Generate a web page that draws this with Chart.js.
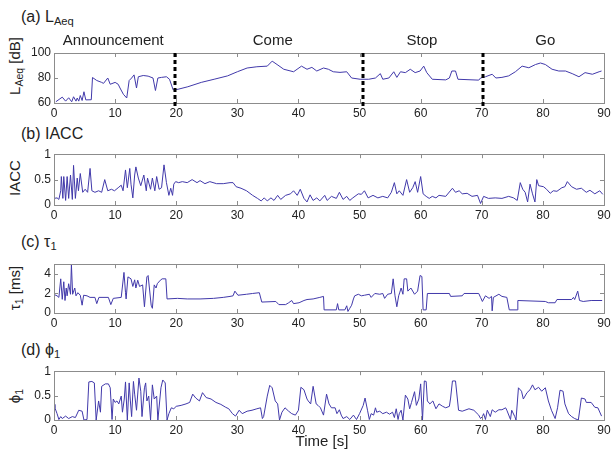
<!DOCTYPE html>
<html lang="en">
<head>
<meta charset="UTF-8">
<title>LAeq, IACC, tau1, phi1 over time</title>
<script src="https://cdn.jsdelivr.net/npm/chart.js@4.4.1/dist/chart.umd.min.js"></script>
<style>
    body {
        margin: 0;
        background: #fff;
        font-family: 'Liberation Sans', Arial, sans-serif;
        color: #222;
    }
    .page {
        position: relative;
        width: 614px;
        height: 455px;
        overflow: hidden;
    }
    .panel {
        position: absolute;
        left: 0;
    }
    .title {
        position: absolute;
        left: 21px;
        font-size: 16px;
        white-space: nowrap;
    }
    .ylab {
        position: absolute;
        font-size: 15px;
        white-space: nowrap;
        transform: translate(-50%, -50%) rotate(-90deg);
    }
    sub {
        font-size: 70%;
        vertical-align: -3px;
        line-height: 0;
    }
    .xlab {
        position: absolute;
        left: 322px;
        top: 432px;
        font-size: 15px;
        transform: translateX(-50%);
    }
</style>
</head>
<body>
<div class="page">
    <div class="title" style="top: 8px;">(a) L<sub>Aeq</sub></div>
    <div class="title" style="top: 125px;">(b) IACC</div>
    <div class="title" style="top: 233px;">(c) &tau;<sub>1</sub></div>
    <div class="title" style="top: 341px;">(d) &#981;<sub>1</sub></div>

    <div class="ylab" style="left: 14px; top: 66px;">L<sub>Aeq</sub> [dB]</div>
    <div class="ylab" style="left: 14px; top: 178px;">IACC</div>
    <div class="ylab" style="left: 14px; top: 288px;">&tau;<sub>1</sub> [ms]</div>
    <div class="ylab" style="left: 14px; top: 396px;">&#981;<sub>1</sub></div>

    <div class="panel" style="top: 28px;"><canvas id="laeq" width="614" height="92"></canvas></div>
    <div class="panel" style="top: 144px;"><canvas id="iacc" width="614" height="78"></canvas></div>
    <div class="panel" style="top: 254px;"><canvas id="tau" width="614" height="76"></canvas></div>
    <div class="panel" style="top: 361px;"><canvas id="phi" width="614" height="76"></canvas></div>

    <div class="xlab">Time [s]</div>
</div>

<script>
    // (a) LAeq [dB]
    const laeqTime = [0.3, 1.35, 1.9, 2.4, 2.9, 3.2, 3.6, 3.8, 4.05, 4.3, 4.6, 4.9, 5.2, 6.1, 6.3, 7.0, 7.8, 8.1, 8.8, 9.2,
        10.0, 10.5, 10.8, 11.35, 11.9, 12.3, 12.7, 13.1, 13.5, 13.8, 14.6, 15.4, 16.2, 16.6, 17.0, 17.6, 18.4, 18.9, 19.5, 20.3,
        21.9, 24.1, 26.2, 28.4, 30.0, 31.6, 33.2, 34.9, 35.7, 36.5, 37.6, 39.2, 40.5, 41.4, 42.2, 43.0, 44.1, 44.9, 45.7, 46.8,
        47.9, 48.7, 50.1, 51.5, 52.6, 53.4, 53.8, 54.8, 55.6, 56.1, 56.7, 57.5, 58.3, 59.1, 59.9, 60.5, 61.0, 61.9, 64.1, 64.7,
        65.1, 65.7, 66.1, 69.5, 69.8, 70.6, 71.7, 72.3, 73.3, 74.4, 75.5, 76.6, 77.7, 78.8, 79.6, 80.4, 81.5, 82.6, 83.7, 84.8,
        85.9, 86.9, 88.1, 89.2, 89.6];
    const laeqValue = [61, 64.7, 61.5, 64.2, 61, 65, 61.5, 64, 61.5, 66, 62, 69, 62.5, 62.6, 80.4, 78, 76.5, 75.7, 80, 75,
        76.5, 75, 72, 67, 64, 78, 80, 82.5, 72, 81, 82, 81.5, 80, 70, 80, 80.5, 81, 79, 70.5, 71,
        73, 76.5, 79, 81.7, 85, 88, 89, 89.5, 93.5, 90.8, 87, 85, 89.5, 87, 88.5, 85.6, 88, 87, 85, 84.5,
        85, 80, 79, 79, 80, 83.5, 79, 80, 85, 80.5, 85, 84.3, 87, 84.3, 85.6, 89.5, 84.3, 79, 78.5, 80,
        85.6, 85.6, 79, 78.3, 80, 81, 83, 80, 80.5, 81.7, 85, 89.5, 88.2, 90.8, 92, 90.8, 87, 85.6, 85.6, 83.5,
        81, 84.3, 83, 85, 85.6];

    // (b) IACC
    const iaccTime = [0, 0.5, 0.8, 1.1, 1.2, 1.45, 1.6, 1.9, 2.15, 2.4, 2.7, 3.0, 3.2, 3.5, 3.8, 4.0, 4.3, 4.7, 5.1, 5.5,
        5.9, 6.2, 6.7, 7.3, 7.8, 8.3, 8.8, 9.4, 9.9, 10.5, 11.0, 11.3, 11.7, 12.0, 12.4, 12.6, 12.9, 13.2, 13.4, 13.8,
        14.2, 14.7, 15.1, 15.3, 15.8, 16.1, 16.5, 16.8, 17.2, 17.6, 18.0, 18.4, 18.8, 19.1, 19.4, 19.6, 19.9, 20.4, 21.0, 21.8,
        22.6, 23.4, 23.9, 24.7, 25.5, 26.6, 27.7, 28.8, 29.3, 29.8, 30.6, 31.5, 32.5, 33.3, 33.9, 34.4, 34.9, 35.5, 36.0, 36.6,
        37.1, 37.9, 38.7, 39.2, 39.8, 40.3, 40.9, 41.4, 41.9, 42.4, 43.0, 43.5, 44.3, 44.7, 45.4, 46.2, 46.7, 47.3, 47.9, 48.4,
        48.9, 49.8, 50.3, 50.8, 51.4, 52.2, 53.0, 53.8, 54.6, 55.2, 55.7, 56.1, 56.5, 57.1, 57.7, 58.2, 58.7, 59.1, 59.5, 60.0,
        60.4, 60.9, 61.4, 61.9, 62.5, 63.0, 64.1, 65.2, 65.7, 66.3, 66.8, 67.6, 68.4, 69.3, 69.8, 70.3, 71.1, 72.2, 73.3, 74.4,
        75.2, 75.8, 76.3, 76.7, 77.1, 77.5, 77.9, 78.3, 78.7, 79.0, 79.3, 80.1, 80.6, 81.2, 81.7, 82.3, 83.1, 83.6, 84.0, 84.7,
        85.5, 86.3, 87.1, 87.7, 88.5, 89.3, 89.8];
    const iaccValue = [0.13, 0.14, 0.11, 0.28, 0.56, 0.13, 0.56, 0.09, 0.56, 0.13, 0.59, 0.11, 0.78, 0.13, 0.53, 0.28, 0.62, 0.25, 0.31, 0.25,
        0.72, 0.28, 0.25, 0.28, 0.25, 0.5, 0.28, 0.31, 0.28, 0.34, 0.39, 0.28, 0.69, 0.34, 0.72, 0.41, 0.14, 0.59, 0.75, 0.53,
        0.38, 0.59, 0.28, 0.53, 0.31, 0.53, 0.28, 0.56, 0.31, 0.34, 0.79, 0.44, 0.19, 0.33, 0.19, 0.41, 0.46, 0.44, 0.46, 0.44,
        0.5, 0.44, 0.48, 0.42, 0.46, 0.42, 0.42, 0.44, 0.44, 0.36, 0.33, 0.28, 0.19, 0.13, 0.08, 0.14, 0.08, 0.14, 0.09, 0.19,
        0.11, 0.19, 0.22, 0.28, 0.19, 0.31, 0.13, 0.06, 0.2, 0.09, 0.14, 0.08, 0.19, 0.09, 0.17, 0.13, 0.25, 0.11, 0.17, 0.09,
        0.14, 0.22, 0.21, 0.28, 0.14, 0.19, 0.14, 0.17, 0.14, 0.25, 0.44, 0.22, 0.28, 0.19, 0.5, 0.25, 0.34, 0.46, 0.25, 0.56,
        0.22, 0.17, 0.13, 0.17, 0.14, 0.19, 0.17, 0.33, 0.25, 0.28, 0.22, 0.23, 0.17, 0.19, 0.03, 0.17, 0.13, 0.14, 0.13, 0.17,
        0.14, 0.09, 0.44, 0.31, 0.25, 0.06, 0.41, 0.22, 0.06, 0.5, 0.38, 0.36, 0.31, 0.23, 0.28, 0.27, 0.34, 0.36, 0.46, 0.36,
        0.31, 0.33, 0.25, 0.29, 0.22, 0.28, 0.21];

    // (c) tau1 [ms]
    const tauTime = [0, 0.5, 0.8, 1.1, 1.35, 1.6, 1.8, 2.0, 2.15, 2.4, 2.7, 2.85, 3.05, 3.4, 3.6, 3.9, 4.3, 4.6, 4.85, 5.4,
        5.9, 6.7, 7.0, 7.35, 8.9, 9.3, 9.7, 11.0, 11.45, 11.7, 11.8, 12.1, 12.6, 12.9, 13.2, 13.4, 13.7, 14.0, 14.5, 14.8,
        15.2, 15.4, 15.9, 16.1, 16.4, 16.7, 16.9, 17.4, 17.7, 18.3, 18.5, 20.2, 21.8, 23.9, 26.1, 27.7, 28.8, 29.3, 29.6, 30.1,
        31.5, 32.5, 33.6, 34.0, 36.3, 36.8, 37.9, 38.4, 38.9, 39.2, 40.1, 40.9, 41.4, 42.4, 43.5, 44.1, 44.2, 46.2, 46.4, 46.6,
        47.6, 47.9, 48.1, 48.4, 48.7, 49.0, 49.2, 49.8, 50.3, 50.8, 51.6, 51.9, 52.5, 53.3, 53.8, 54.1, 54.6, 55.2, 55.5, 55.8,
        56.1, 56.4, 56.6, 56.8, 57.1, 57.3, 57.7, 57.9, 58.4, 59.0, 59.5, 59.9, 60.2, 60.4, 60.9, 61.1, 64.7, 64.9, 66.8, 67.1,
        69.5, 69.8, 70.1, 70.6, 71.2, 71.6, 71.7, 71.9, 72.8, 73.3, 74.1, 74.5, 75.8, 75.9, 80.4, 80.9, 82.0, 82.3, 84.7, 85.0,
        85.2, 85.7, 86.0, 86.6, 87.9, 89.7];
    const tauValue = [1.9, 1.76, 1.6, 3.5, 1.4, 3.2, 1.28, 2.56, 1.76, 3.0, 1.92, 4.96, 1.92, 2.56, 1.76, 2.08, 1.82, 0.8, 1.82, 1.76,
        1.6, 1.6, 0.96, 1.6, 1.6, 0.86, 1.5, 1.6, 4.16, 2.08, 1.44, 3.7, 3.5, 2.72, 3.4, 2.56, 3.36, 2.72, 2.88, 0.64,
        3.7, 3.84, 0.8, 0.48, 2.88, 2.56, 3.0, 3.36, 3.5, 3.5, 1.44, 1.5, 1.44, 1.44, 1.5, 1.6, 1.7, 1.76, 2.24, 1.82,
        1.92, 2.0, 2.08, 1.12, 1.18, 0.86, 0.86, 1.05, 1.28, 0.96, 1.05, 1.28, 1.38, 1.44, 1.6, 1.7, 0.32, 0.32, 0.96, 0.32,
        0.32, 0.74, 0.16, 0.48, 0.8, 1.44, 1.76, 1.92, 1.76, 1.82, 1.92, 1.6, 2.0, 1.92, 2.0, 1.5, 1.92, 2.0, 3.5, 1.76,
        0.64, 1.76, 2.14, 2.56, 1.92, 3.5, 3.5, 2.24, 2.56, 1.92, 2.24, 3.84, 3.74, 0.32, 0.32, 2.0, 2.0, 1.7, 1.76, 2.0,
        2.0, 1.6, 1.18, 1.76, 1.5, 1.7, 0.22, 1.6, 1.92, 1.7, 1.6, 0.32, 0.32, 1.28, 1.18, 1.05, 1.05, 1.38, 1.38, 1.6,
        1.38, 2.24, 1.28, 1.18, 1.28, 1.28];

    // (d) phi1
    const phiTime = [0, 0.15, 0.5, 0.8, 1.1, 1.35, 1.9, 2.4, 3.0, 3.5, 4.05, 4.6, 4.9, 5.4, 5.7, 6.2, 6.6, 6.9, 7.3, 7.6,
        7.8, 8.4, 8.9, 9.2, 9.5, 9.7, 10.0, 10.3, 10.6, 11.0, 11.2, 11.5, 11.7, 12.0, 12.3, 12.5, 12.7, 13.0, 13.2, 13.5,
        13.9, 14.2, 14.4, 14.8, 15.0, 15.2, 15.5, 15.8, 16.1, 16.4, 16.8, 17.0, 17.5, 17.8, 18.2, 18.5, 18.8, 19.2, 19.6, 20.0,
        20.8, 21.6, 22.2, 22.7, 23.2, 23.8, 24.3, 24.9, 25.7, 26.5, 27.3, 28.1, 28.6, 29.2, 29.7, 30.3, 30.8, 31.6, 32.4, 33.2,
        33.8, 34.1, 34.3, 34.9, 35.3, 35.7, 36.2, 36.6, 36.9, 37.3, 37.8, 38.4, 38.9, 39.5, 40.0, 40.4, 40.9, 41.4, 41.6, 42.0,
        42.4, 42.9, 43.2, 43.6, 44.1, 44.6, 45.0, 45.4, 46.0, 46.3, 46.7, 47.0, 47.3, 47.9, 48.4, 49.0, 49.5, 50.0, 50.6, 50.9,
        51.3, 51.6, 51.9, 52.3, 52.6, 52.8, 53.3, 53.8, 54.4, 54.9, 55.4, 55.7, 56.0, 56.3, 56.5, 56.8, 57.1, 57.5, 57.9, 58.2,
        58.5, 59.0, 59.3, 59.7, 60.0, 60.3, 60.6, 60.9, 61.1, 61.5, 62.0, 62.5, 63.0, 63.6, 64.1, 64.7, 64.9, 65.2, 65.7, 66.2,
        66.8, 67.9, 68.7, 69.5, 69.8, 70.1, 70.3, 70.6, 70.9, 71.4, 71.7, 72.2, 72.8, 73.3, 73.9, 74.1, 74.7, 74.9, 75.4, 75.6,
        76.0, 76.5, 76.8, 77.4, 77.9, 78.3, 78.7, 79.3, 79.8, 80.4, 80.9, 81.4, 82.0, 82.4, 82.8, 83.3, 83.6, 84.2, 84.7, 85.2,
        85.8, 86.3, 86.9, 87.1, 87.9, 88.5, 89.0, 89.6];
    const phiValue = [0.32, 0.25, 0.13, 0.01, 0.07, 0.03, 0.08, 0.03, 0.07, 0.05, 0.2, 0.18, 0.0, 0.01, 0.78, 0.79, 0.76, 0.0, 0.39, 0.16,
        0.69, 0.74, 0.74, 0.66, 0.01, 0.43, 0.36, 0.39, 0.33, 0.49, 0.16, 0.43, 0.78, 0.0, 0.76, 0.39, 0.07, 0.79, 0.53, 0.2,
        0.86, 0.59, 0.07, 0.66, 0.76, 0.39, 0.49, 0.0, 0.72, 0.43, 0.49, 0.0, 0.66, 0.82, 0.76, 0.0, 0.13, 0.25, 0.23, 0.28,
        0.3, 0.33, 0.36, 0.53, 0.45, 0.39, 0.56, 0.46, 0.43, 0.36, 0.32, 0.26, 0.23, 0.13, 0.08, 0.2, 0.13, 0.18, 0.2, 0.23,
        0.25, 0.03, 0.07, 0.49, 0.71, 0.66, 0.39, 0.33, 0.0, 0.16, 0.25, 0.18, 0.13, 0.1, 0.2, 0.67, 0.62, 0.43, 0.39, 0.33,
        0.69, 0.33, 0.3, 0.25, 0.1, 0.53, 0.33, 0.25, 0.25, 0.13, 0.21, 0.1, 0.03, 0.07, 0.01, 0.1, 0.01, 0.13, 0.3, 0.45,
        0.2, 0.01, 0.13, 0.1, 0.25, 0.16, 0.18, 0.13, 0.16, 0.12, 0.16, 0.05, 0.23, 0.01, 0.13, 0.2, 0.0, 0.51, 0.43, 0.23,
        0.36, 0.58, 0.3, 0.43, 0.74, 0.0, 0.8, 0.79, 0.39, 0.33, 0.39, 0.23, 0.33, 0.28, 0.25, 0.28, 0.45, 0.8, 0.8, 0.2,
        0.18, 0.23, 0.2, 0.1, 0.03, 0.07, 0.13, 0.01, 0.2, 0.07, 0.21, 0.16, 0.21, 0.21, 0.25, 0.2, 0.01, 0.2, 0.07, 0.0,
        0.66, 0.59, 0.43, 0.56, 0.62, 0.72, 0.62, 0.67, 0.59, 0.66, 0.39, 0.2, 0.03, 0.25, 0.61, 0.59, 0.33, 0.13, 0.07, 0.03,
        0.0, 0.45, 0.43, 0.36, 0.36, 0.26, 0.25, 0.08];

    // speech segments shown above panel (a)
    const segmentNames = ['Announcement', 'Come', 'Stop', 'Go'];
    const segmentCenters = [9.7, 35.8, 60.2, 80.4];
    const segmentBounds = [19.8, 50.5, 70.2];

    const lineColor = '#4139aa';
    const frameColor = '#8c8c8c';

    // box + inward tick marks, matlab style
    const framePlugin = {
        id: 'frame',
        afterDraw(chart) {
            const { ctx, chartArea: a, scales } = chart;
            ctx.save();
            ctx.strokeStyle = frameColor;
            ctx.lineWidth = 1;
            ctx.strokeRect(Math.round(a.left) + 0.5, Math.round(a.top) + 0.5,
                Math.round(a.right - a.left), Math.round(a.bottom - a.top));
            ctx.beginPath();
            scales.x.ticks.forEach(t => {
                const px = Math.round(scales.x.getPixelForValue(t.value)) + 0.5;
                ctx.moveTo(px, a.top); ctx.lineTo(px, a.top + 4);
                ctx.moveTo(px, a.bottom); ctx.lineTo(px, a.bottom - 4);
            });
            scales.y.ticks.forEach(t => {
                const py = Math.round(scales.y.getPixelForValue(t.value)) + 0.5;
                ctx.moveTo(a.left, py); ctx.lineTo(a.left + 4, py);
                ctx.moveTo(a.right, py); ctx.lineTo(a.right - 4, py);
            });
            ctx.stroke();
            ctx.restore();
        }
    };

    // dashed segment boundaries and names for panel (a)
    const segmentPlugin = {
        id: 'segments',
        afterDraw(chart) {
            const { ctx, chartArea: a, scales: { x } } = chart;
            ctx.save();
            ctx.strokeStyle = '#000';
            ctx.lineWidth = 3;
            ctx.setLineDash([4, 3]);
            segmentBounds.forEach(v => {
                const px = Math.round(x.getPixelForValue(v));
                ctx.beginPath();
                ctx.moveTo(px, a.top);
                ctx.lineTo(px, a.bottom + 4);
                ctx.stroke();
            });
            ctx.setLineDash([]);
            ctx.fillStyle = '#222';
            ctx.font = "15px 'Liberation Sans', Arial, sans-serif";
            ctx.textAlign = 'center';
            ctx.textBaseline = 'alphabetic';
            segmentNames.forEach((name, i) => {
                ctx.fillText(name, x.getPixelForValue(segmentCenters[i]), a.top - 8);
            });
            ctx.restore();
        }
    };

    function makePanel(id, times, values, yMin, yMax, yTicks, padTop, extraPlugins) {
        const points = times.map((t, i) => ({ x: t, y: values[i] }));
        return new Chart(document.getElementById(id), {
            type: 'line',
            data: {
                datasets: [{
                    data: points,
                    borderColor: lineColor,
                    borderWidth: 1,
                    pointRadius: 0,
                    tension: 0,
                    fill: false
                }]
            },
            options: {
                responsive: false,
                animation: false,
                devicePixelRatio: 1,
                layout: { padding: { top: padTop, right: 10, left: 0, bottom: 0 } },
                plugins: { legend: { display: false }, tooltip: { enabled: false } },
                scales: {
                    x: {
                        type: 'linear',
                        min: 0,
                        max: 90,
                        afterFit: s => { s.height = 17; },
                        grid: { display: false, drawTicks: false },
                        border: { display: false },
                        ticks: {
                            stepSize: 10,
                            autoSkip: false,
                            maxRotation: 0,
                            padding: 3,
                            color: '#222',
                            font: { family: "'Liberation Sans', Arial, sans-serif", size: 12 }
                        }
                    },
                    y: {
                        min: yMin,
                        max: yMax,
                        afterFit: s => { s.width = 54; },
                        afterBuildTicks: s => { s.ticks = yTicks.map(v => ({ value: v })); },
                        grid: { display: false, drawTicks: false },
                        border: { display: false },
                        ticks: {
                            padding: 3,
                            color: '#222',
                            callback: v => String(v),
                            font: { family: "'Liberation Sans', Arial, sans-serif", size: 12 }
                        }
                    }
                }
            },
            plugins: [framePlugin].concat(extraPlugins || [])
        });
    }

    makePanel('laeq', laeqTime, laeqValue, 60, 100, [60, 80, 100], 25, [segmentPlugin]);
    makePanel('iacc', iaccTime, iaccValue, 0, 1, [0, 0.5, 1], 8);
    makePanel('tau', tauTime, tauValue, 0, 5, [0, 2, 4], 8);
    makePanel('phi', phiTime, phiValue, 0, 1, [0, 0.5, 1], 8);
</script>
</body>
</html>
